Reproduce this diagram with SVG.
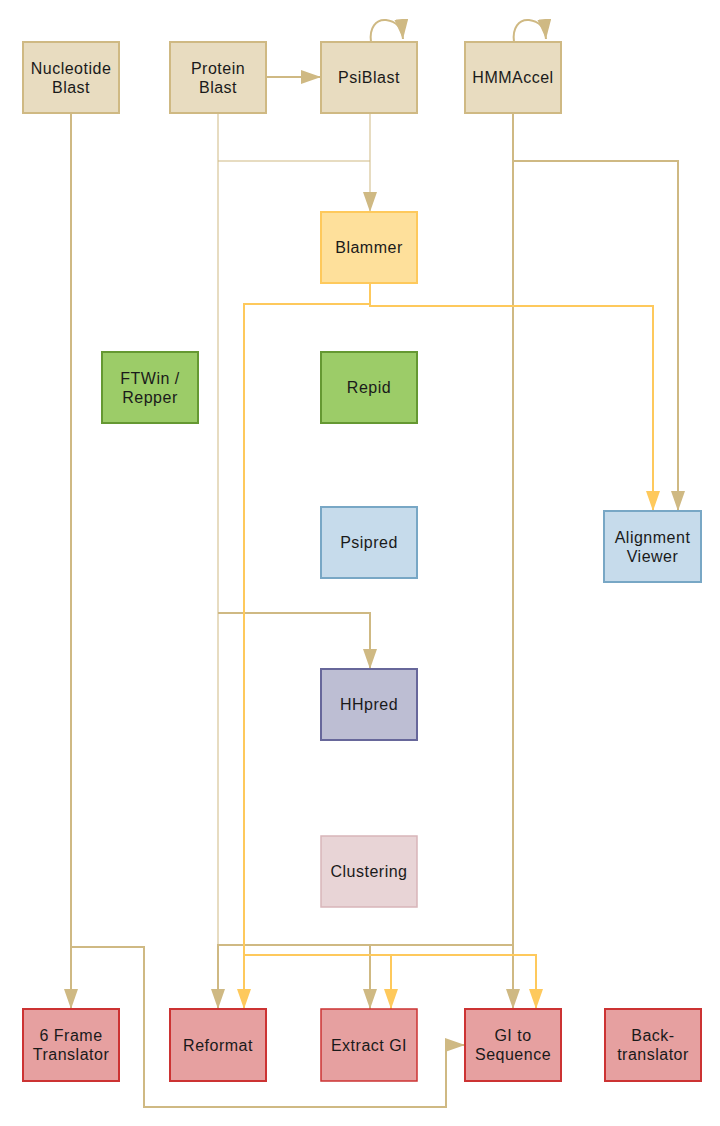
<svg xmlns="http://www.w3.org/2000/svg" width="720" height="1126" viewBox="0 0 720 1126">
<defs>
<style>
.n rect{stroke-width:2}
.n text{font-family:"Liberation Sans",Arial,sans-serif;font-size:16px;fill:#1a1a1a;text-anchor:middle;letter-spacing:0.5px}
.beige rect{fill:#e8dcc0;stroke:#cfb983}
.blam rect{fill:#fee09b;stroke:#fec95c}
.green rect{fill:#9ccc68;stroke:#659832}
.blue rect{fill:#c6dbeb;stroke:#78a7c5}
.hh rect{fill:#bdbed3;stroke:#67679a}
.clu rect{fill:#e8d4d6;stroke:#d8b5b9;stroke-width:1.5}
.red rect{fill:#e6a0a0;stroke:#cc3333}
.e{fill:none;stroke-linejoin:miter}
.t{stroke:#cfb983;stroke-width:2}
.tt{stroke:#cfb983;stroke-width:1}
.o{stroke:#fec95c;stroke-width:2}
.at{marker-end:url(#mt)}
.ao{marker-end:url(#mo)}
</style>
<marker id="mt" markerUnits="userSpaceOnUse" markerWidth="20" markerHeight="14" refX="20" refY="7" orient="auto"><path d="M0,0 L20,7 L0,14 z" fill="#cfb983"/></marker>
<marker id="mo" markerUnits="userSpaceOnUse" markerWidth="20" markerHeight="14" refX="20" refY="7" orient="auto"><path d="M0,0 L20,7 L0,14 z" fill="#fec95c"/></marker>
</defs>
<rect width="720" height="1126" fill="#fff"/>
<g id="connectors">
<path class="e tt" d="M218,113 V945"/>
<path class="e tt" d="M218,161 H370"/>
<path class="e tt at" d="M370,113 V212"/>
<path class="e t at" d="M266,77 H321"/>
<path class="e t at" d="M371,42 C369,28 376,19 386,20 C395,21 402,27 403,39"/>
<path class="e t at" d="M514,42 C512,28 519,19 529,20 C538,21 545,27 546,39"/>
<path class="e t at" d="M218,613 H370 V669"/>
<path class="e t at" d="M513,113 V161 H678 V511"/>
<path class="e t at" d="M513,161 V1009"/>
<path class="e t at" d="M513,945 H370 V1009"/>
<path class="e t at" d="M370,945 H218 V1009"/>
<path class="e o ao" d="M370,283 V304 H244 V1009"/>
<path class="e o ao" d="M370,304 V306 H653 V511"/>
<path class="e o ao" d="M244,955 H391 V1009"/>
<path class="e o ao" d="M391,955 H536 V1009"/>
<path class="e t at" d="M71,113 V1009"/>
<path class="e t at" d="M71,947 H144 V1107 H446 V1045 H465"/>
</g>
<g id="nucleotide-blast" class="n beige"><rect x="23" y="42" width="96" height="71"/><text x="71" y="73.5">Nucleotide</text><text x="71" y="92.5">Blast</text></g>
<g id="protein-blast" class="n beige"><rect x="170" y="42" width="96" height="71"/><text x="218" y="73.5">Protein</text><text x="218" y="92.5">Blast</text></g>
<g id="psiblast" class="n beige"><rect x="321" y="42" width="96" height="71"/><text x="369" y="83">PsiBlast</text></g>
<g id="hmmaccel" class="n beige"><rect x="465" y="42" width="96" height="71"/><text x="513" y="83">HMMAccel</text></g>
<g id="blammer" class="n blam"><rect x="321" y="212" width="96" height="71"/><text x="369" y="253">Blammer</text></g>
<g id="ftwin-repper" class="n green"><rect x="102" y="352" width="96" height="71"/><text x="150" y="383.5">FTWin /</text><text x="150" y="402.5">Repper</text></g>
<g id="repid" class="n green"><rect x="321" y="352" width="96" height="71"/><text x="369" y="393">Repid</text></g>
<g id="psipred" class="n blue"><rect x="321" y="507" width="96" height="71"/><text x="369" y="548">Psipred</text></g>
<g id="alignment-viewer" class="n blue"><rect x="604" y="511" width="97" height="71"/><text x="652.5" y="542.5">Alignment</text><text x="652.5" y="561.5">Viewer</text></g>
<g id="hhpred" class="n hh"><rect x="321" y="669" width="96" height="71"/><text x="369" y="710">HHpred</text></g>
<g id="clustering" class="n clu"><rect x="321" y="836" width="96" height="71"/><text x="369" y="877">Clustering</text></g>
<g id="six-frame-translator" class="n red"><rect x="23" y="1009" width="96" height="72"/><text x="71" y="1040.5">6 Frame</text><text x="71" y="1059.5">Translator</text></g>
<g id="reformat" class="n red"><rect x="170" y="1009" width="96" height="72"/><text x="218" y="1050.5">Reformat</text></g>
<g id="extract-gi" class="n red"><rect x="321" y="1009" width="96" height="72" style="stroke-width:1.5"/><text x="369" y="1050.5">Extract GI</text></g>
<g id="gi-to-sequence" class="n red"><rect x="465" y="1009" width="96" height="72"/><text x="513" y="1040.5">GI to</text><text x="513" y="1059.5">Sequence</text></g>
<g id="back-translator" class="n red"><rect x="605" y="1009" width="96" height="72"/><text x="653" y="1040.5">Back-</text><text x="653" y="1059.5">translator</text></g>
</svg>
